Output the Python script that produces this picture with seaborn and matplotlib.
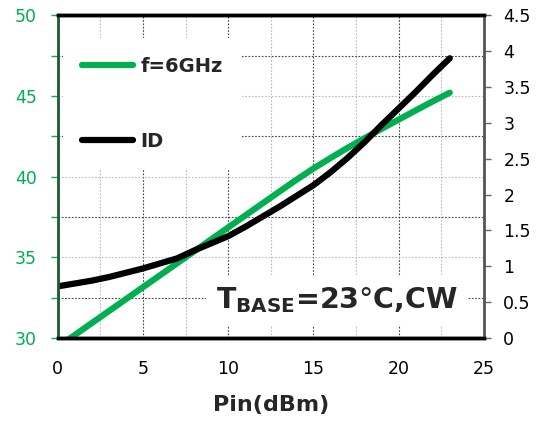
import numpy as np
import pandas as pd
import seaborn as sns
from matplotlib import pyplot as plt
from matplotlib.ticker import MultipleLocator
from matplotlib.lines import Line2D

# data
pin = [0, 1, 2, 3, 4, 5, 6, 7, 8, 9, 10, 11, 12, 13, 14, 15, 16, 17, 18, 19, 20, 21, 22, 23]
pout = [29.45, 30.19, 30.93, 31.67, 32.41, 33.15, 33.89, 34.63, 35.37, 36.11, 36.85, 37.59,
        38.33, 39.07, 39.8, 40.5, 41.15, 41.78, 42.38, 42.96, 43.53, 44.1, 44.66, 45.2]
idrain = [0.72, 0.76, 0.80, 0.85, 0.91, 0.97, 1.04, 1.11, 1.22, 1.32, 1.42, 1.55,
          1.69, 1.83, 1.98, 2.13, 2.31, 2.51, 2.73, 2.97, 3.20, 3.43, 3.67, 3.90]
labels = ['f=6GHz', 'ID']

green = '#00B050'
sns.set_style('white')
plt.rcParams['font.family'] = ['DejaVu Sans']

fig = plt.figure(figsize=(5.4, 4.22), dpi=100)
ax = fig.add_axes([0.107, 0.199, 0.789, 0.765])
ax2 = ax.twinx()

df = pd.DataFrame({'Pin': pin, 'Pout': pout, 'ID': idrain})
sns.lineplot(data=df, x='Pin', y='Pout', ax=ax, color=green, linewidth=4.5,
             solid_capstyle='round')
sns.lineplot(data=df, x='Pin', y='ID', ax=ax2, color='black', linewidth=4.5,
             solid_capstyle='round')

ax.set_xlim(0, 25)
ax.set_ylim(30, 50)
ax2.set_ylim(0, 4.5)

ax.xaxis.set_major_locator(MultipleLocator(5))
ax.xaxis.set_minor_locator(MultipleLocator(2.5))
ax.yaxis.set_major_locator(MultipleLocator(5))
ax.yaxis.set_minor_locator(MultipleLocator(2.5))
ax2.set_yticks(np.arange(0, 4.51, 0.5))
ax2.set_yticklabels(['0', '0.5', '1', '1.5', '2', '2.5', '3', '3.5', '4', '4.5'])

# grid: dark dotted vs light dotted
ax.grid(which='major', axis='x', color='#444444', linestyle=(0, (1.5, 1.5)), linewidth=0.8)
ax.grid(which='minor', axis='x', color='#bbbbbb', linestyle=(0, (1.5, 1.5)), linewidth=0.8)
ax.grid(which='major', axis='y', color='#bbbbbb', linestyle=(0, (1.5, 1.5)), linewidth=0.8)
ax.grid(which='minor', axis='y', color='#444444', linestyle=(0, (1.5, 1.5)), linewidth=0.8)
ax.set_axisbelow(True)

ax.tick_params(axis='x', which='both', direction='out', length=5, width=1, colors='black',
               labelsize=12.5, pad=11)
ax.tick_params(axis='y', which='both', direction='out', length=5, width=1, colors=green,
               labelcolor=green, labelsize=12.5, pad=10)
ax2.tick_params(axis='y', direction='out', length=5, width=1, colors='#666666',
                labelcolor='black', labelsize=12.5, pad=9)

for a in (ax, ax2):
    a.spines['top'].set_linewidth(2.5)
    a.spines['top'].set_color('black')
    a.spines['bottom'].set_linewidth(2.5)
    a.spines['bottom'].set_color('black')
ax2.spines['left'].set_color('#1a5c2e')
ax2.spines['left'].set_linewidth(2)
ax2.spines['right'].set_color('#555555')
ax2.spines['right'].set_linewidth(2)

ax.set_xlabel('Pin(dBm)', fontsize=16, fontweight='bold', labelpad=12)
ax.set_ylabel('')
ax2.set_ylabel('')

handles = [Line2D([], [], color=green, linewidth=4.5, solid_capstyle='round'),
           Line2D([], [], color='black', linewidth=4.5, solid_capstyle='round')]
ax2.legend(handles, labels, loc='upper left', bbox_to_anchor=(0.012, 0.93),
           frameon=True, facecolor='white', edgecolor='none', framealpha=1,
           fancybox=False, handlelength=2.6, handletextpad=0.4,
           labelspacing=2.86, borderpad=1.0, borderaxespad=0.0,
           prop={'size': 14, 'weight': 'bold'})

ax2.text(0.939, 0.118, r'$\mathbf{T_{BASE}}$=23$\degree$C,CW', transform=ax2.transAxes,
         ha='right', va='center', fontsize=20.5, fontweight='bold',
         bbox=dict(facecolor='white', edgecolor='none', pad=7))

fig.savefig('out.png', dpi=100)
